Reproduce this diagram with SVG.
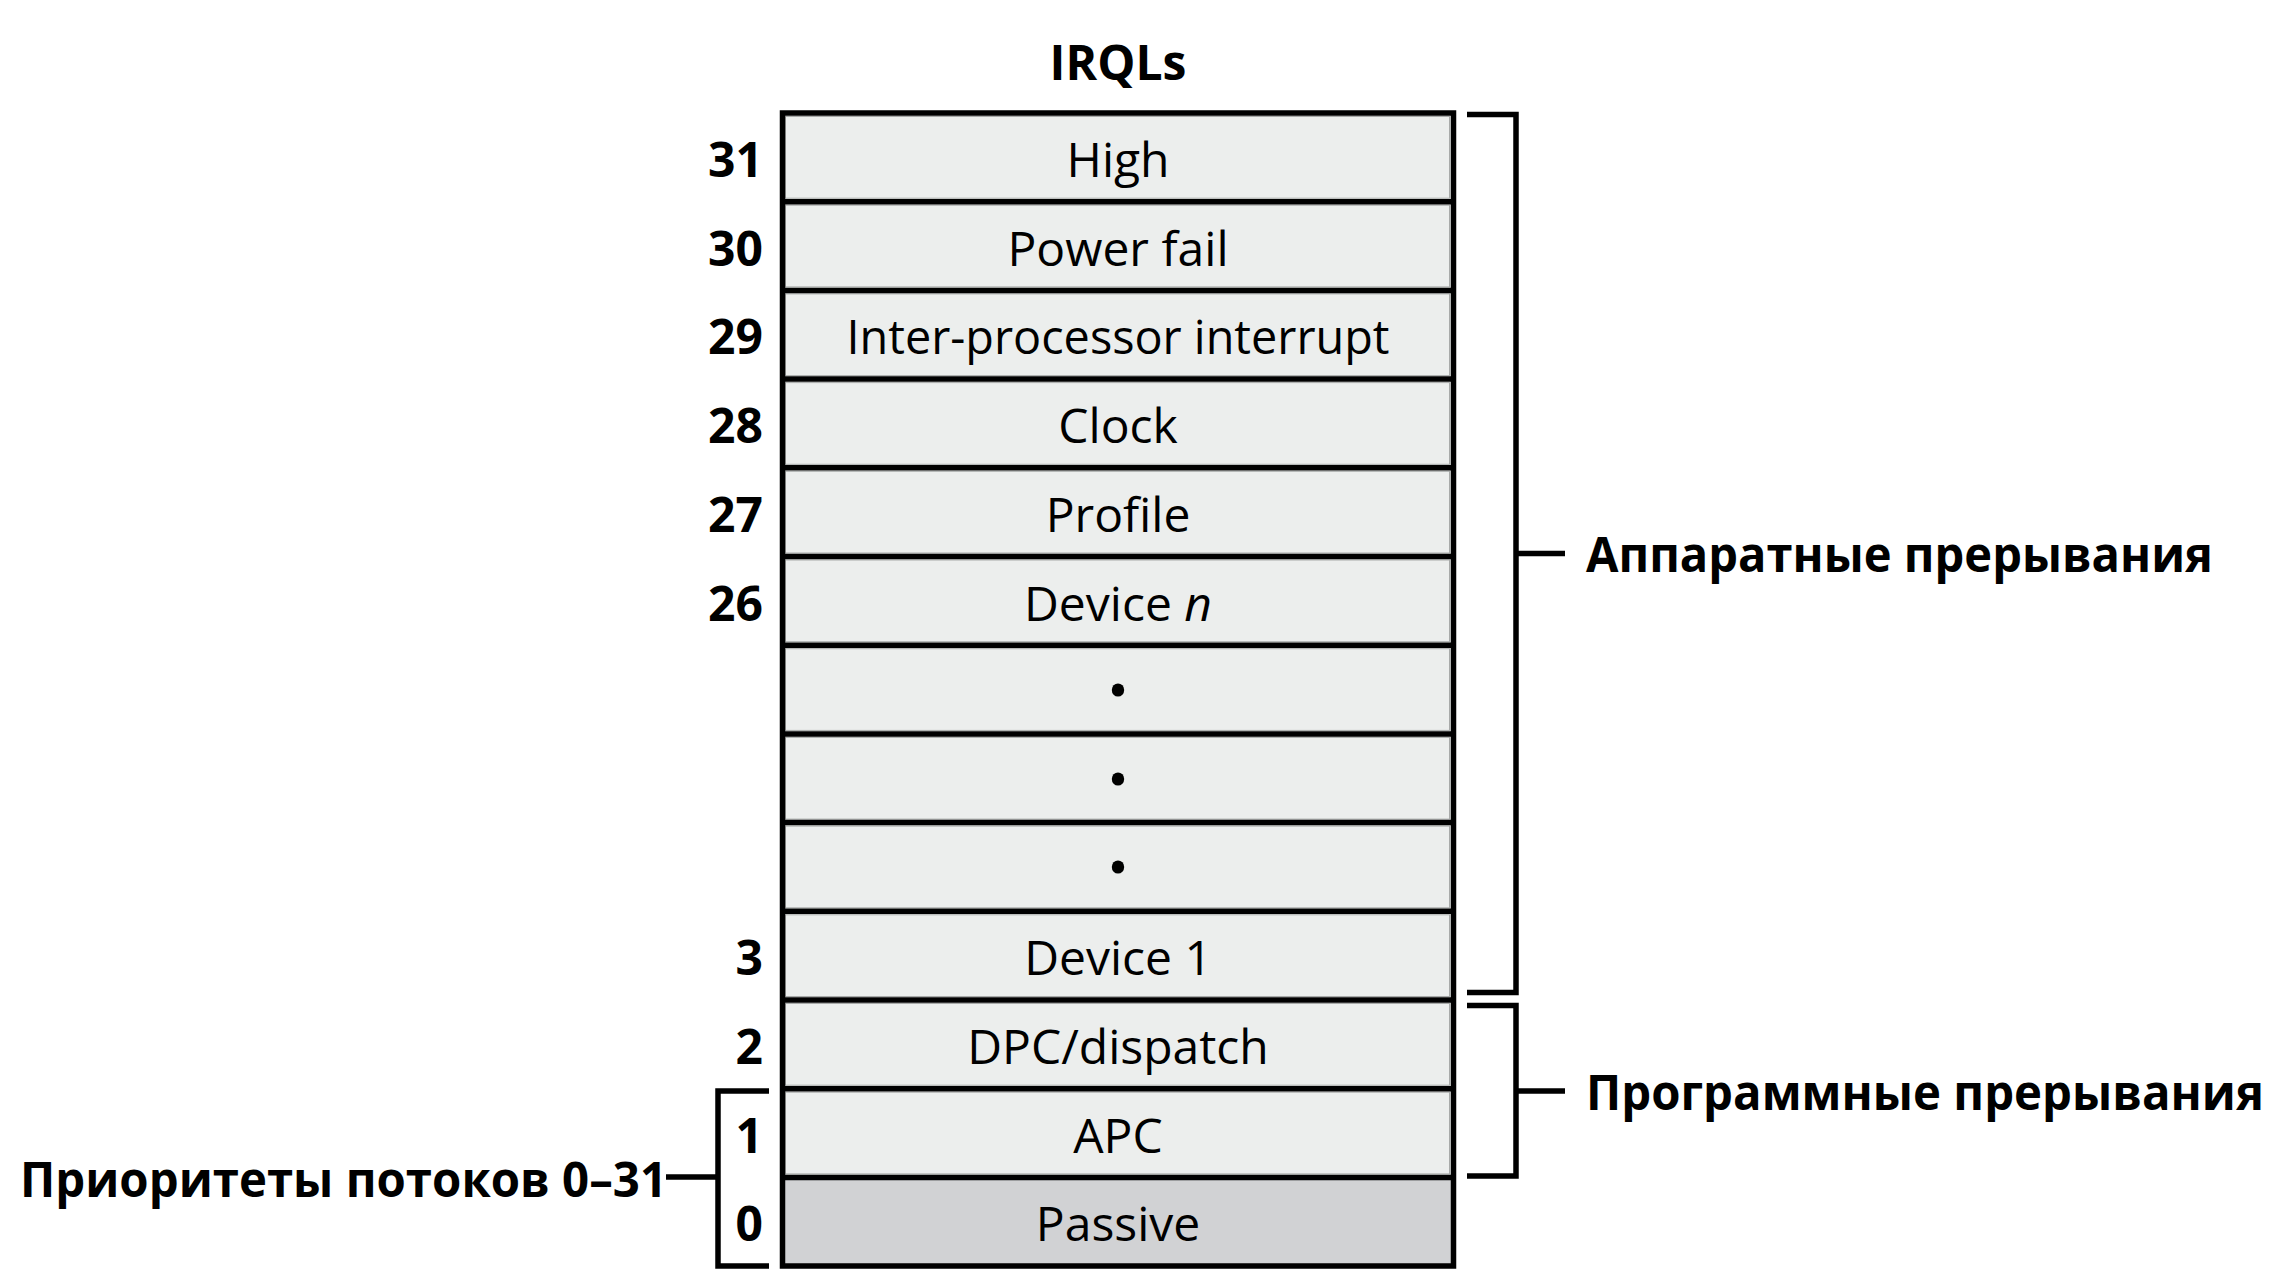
<svg xmlns="http://www.w3.org/2000/svg" width="2276" height="1280" viewBox="0 0 2276 1280">
<style>
.cell{fill:#eceeed;}
.edge{fill:none;stroke:#a8aaa9;stroke-width:1;}
.grid{stroke:#000;stroke-width:5.5;fill:none;}
.t{font-family:"Open Sans","Noto Sans",sans-serif;font-size:48px;fill:#000;text-anchor:middle;}
.n{font-family:"Open Sans","Noto Sans",sans-serif;font-size:48px;font-weight:700;fill:#000;text-anchor:end;}
.lb{font-family:"Open Sans","Noto Sans",sans-serif;font-size:48px;font-weight:700;fill:#000;}
.br{stroke:#000;stroke-width:5.5;fill:none;stroke-linecap:butt;stroke-linejoin:miter;}
</style>
<rect width="2276" height="1280" fill="#fff"/>
<text id="title" class="lb" x="1118" y="80" text-anchor="middle">IRQLs</text>
<g id="r31"><rect class="cell" x="782" y="113" width="671" height="88.7"/><rect class="edge" x="785.5" y="116.5" width="664" height="81.7"/><text class="t" x="1118" y="177">High</text><text class="n" x="763" y="177">31</text></g>
<g id="r30"><rect class="cell" x="782" y="201.7" width="671" height="88.7"/><rect class="edge" x="785.5" y="205.2" width="664" height="81.7"/><text class="t" x="1118" y="265.7">Power fail</text><text class="n" x="763" y="265.7">30</text></g>
<g id="r29"><rect class="cell" x="782" y="290.4" width="671" height="88.7"/><rect class="edge" x="785.5" y="293.9" width="664" height="81.7"/><text class="t" x="1118" y="354.4" textLength="543" lengthAdjust="spacingAndGlyphs">Inter-processor interrupt</text><text class="n" x="763" y="354.4">29</text></g>
<g id="r28"><rect class="cell" x="782" y="379.1" width="671" height="88.7"/><rect class="edge" x="785.5" y="382.6" width="664" height="81.7"/><text class="t" x="1118" y="443.1">Clock</text><text class="n" x="763" y="443.1">28</text></g>
<g id="r27"><rect class="cell" x="782" y="467.8" width="671" height="88.7"/><rect class="edge" x="785.5" y="471.3" width="664" height="81.7"/><text class="t" x="1118" y="531.8">Profile</text><text class="n" x="763" y="531.8">27</text></g>
<g id="r26"><rect class="cell" x="782" y="556.5" width="671" height="88.7"/><rect class="edge" x="785.5" y="560" width="664" height="81.7"/><text class="t" x="1118" y="620.5">Device <tspan font-style="italic">n</tspan></text><text class="n" x="763" y="620.5">26</text></g>
<g id="dot1"><rect class="cell" x="782" y="645.2" width="671" height="88.7"/><rect class="edge" x="785.5" y="648.7" width="664" height="81.7"/><ellipse cx="1118" cy="690" rx="6.2" ry="6.6"/></g>
<g id="dot2"><rect class="cell" x="782" y="733.9" width="671" height="88.7"/><rect class="edge" x="785.5" y="737.4" width="664" height="81.7"/><ellipse cx="1118" cy="779" rx="6.2" ry="6.6"/></g>
<g id="dot3"><rect class="cell" x="782" y="822.6" width="671" height="88.7"/><rect class="edge" x="785.5" y="826.1" width="664" height="81.7"/><ellipse cx="1118" cy="867" rx="6.2" ry="6.6"/></g>
<g id="r3"><rect class="cell" x="782" y="911.3" width="671" height="88.7"/><rect class="edge" x="785.5" y="914.8" width="664" height="81.7"/><text class="t" x="1118" y="975.3">Device 1</text><text class="n" x="763" y="975.3">3</text></g>
<g id="r2"><rect class="cell" x="782" y="1000" width="671" height="88.7"/><rect class="edge" x="785.5" y="1003.5" width="664" height="81.7"/><text class="t" x="1118" y="1064">DPC/dispatch</text><text class="n" x="763" y="1064">2</text></g>
<g id="r1"><rect class="cell" x="782" y="1088.7" width="671" height="88.7"/><rect class="edge" x="785.5" y="1092.2" width="664" height="81.7"/><text class="t" x="1118" y="1152.7">APC</text><text class="n" x="763" y="1152.7">1</text></g>
<g id="r0"><rect x="782" y="1177.4" width="671" height="88.6" fill="#d1d2d4"/><text class="t" x="1118" y="1241.4">Passive</text><text class="n" x="763" y="1241.4">0</text></g>
<g id="grid">
<rect class="grid" x="782.5" y="113" width="671" height="1153"/>
<path class="grid" d="M782.5 201.7H1453.5M782.5 290.4H1453.5M782.5 379.1H1453.5M782.5 467.8H1453.5M782.5 556.5H1453.5M782.5 645.2H1453.5M782.5 733.9H1453.5M782.5 822.6H1453.5M782.5 911.3H1453.5M782.5 1000H1453.5M782.5 1088.7H1453.5M782.5 1177.4H1453.5"/>
</g>
<g id="connectors">
<path class="br" d="M1467 114.5H1516V992.5H1467M1516 553.5H1565"/>
<path class="br" d="M1467 1005.5H1516V1176H1467M1516 1091H1565"/>
<path class="br" d="M769 1091H718V1266H769M718 1177H666"/>
</g>
<g id="hw"><text class="lb" x="1586" y="572" textLength="627" lengthAdjust="spacingAndGlyphs">Аппаратные прерывания</text></g>
<g id="sw"><text class="lb" x="1586" y="1110" textLength="678" lengthAdjust="spacingAndGlyphs">Программные прерывания</text></g>
<g id="thr"><text class="lb" x="20" y="1197" textLength="647" lengthAdjust="spacingAndGlyphs">Приоритеты потоков 0–31</text></g>
</svg>
